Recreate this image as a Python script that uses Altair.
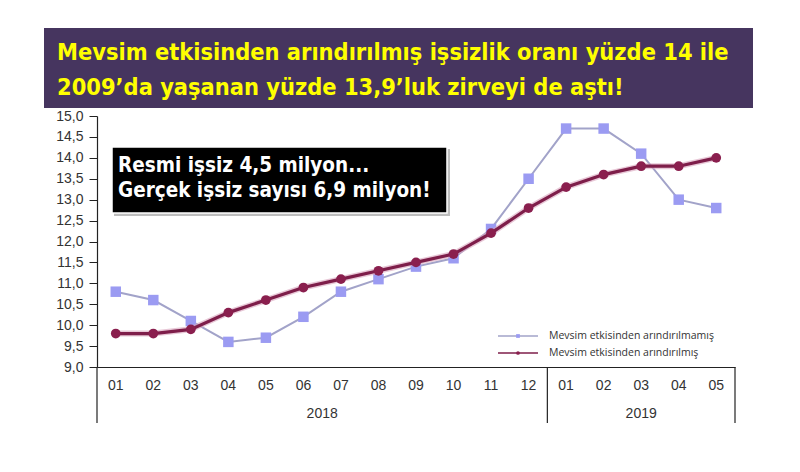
import altair as alt
import pandas as pd

# ---------------- data ----------------
months = ["01", "02", "03", "04", "05", "06", "07", "08", "09", "10", "11", "12",
          "01", "02", "03", "04", "05"]
years = ["2018"] * 12 + ["2019"] * 5
unadjusted = [10.8, 10.6, 10.1, 9.6, 9.7, 10.2, 10.8, 11.1, 11.4, 11.6, 12.3, 13.5,
              14.7, 14.7, 14.1, 13.0, 12.8]
adjusted = [9.8, 9.8, 9.9, 10.3, 10.6, 10.9, 11.1, 11.3, 11.5, 11.7, 12.2, 12.8,
            13.3, 13.6, 13.8, 13.8, 14.0]
series_names = ["Mevsim etkisinden arındırılmamış", "Mevsim etkisinden arındırılmış"]
year_labels = ["2018", "2019"]
year_start = [0, 12]
year_end = [12, 17]
group_bounds = [0, 12, 17]
y_ticks = [9.0, 9.5, 10.0, 10.5, 11.0, 11.5, 12.0, 12.5, 13.0, 13.5, 14.0, 14.5, 15.0]
title_lines = ["Mevsim etkisinden arındırılmış işsizlik oranı yüzde 14 ile",
               "2009’da yaşanan yüzde 13,9’luk zirveyi de aştı!"]
box_lines = ["Resmi işsiz 4,5 milyon...", "Gerçek işsiz sayısı 6,9 milyon!"]

# ---------------- tables ----------------
idx = list(range(len(months)))
long_df = pd.DataFrame({
    "idx": idx * 2,
    "month": months * 2,
    "series": [series_names[0]] * len(idx) + [series_names[1]] * len(idx),
    "value": unadjusted + adjusted,
})
month_df = pd.DataFrame({"idx": idx, "month": months})
year_df = pd.DataFrame({"year": year_labels, "s": year_start, "e": year_end})
bound_df = pd.DataFrame({"b": group_bounds})
one = pd.DataFrame({"k": [0]})

W, H = 638, 251
FONT = "Liberation Sans"
COND = "DejaVu Sans Condensed"
LEGFONT = "Open Sans"

xscale = alt.Scale(domain=[0, 17])
yscale = alt.Scale(domain=[9, 15])
xaxis = alt.Axis(labels=False, ticks=False, grid=False, domain=True, title=None,
                 domainColor="#222222", domainWidth=1.2)
yaxis = alt.Axis(values=y_ticks, grid=False, title=None, tickSize=8, tickColor="#222222",
                 domainColor="#222222", domainWidth=1.2, labelFont=FONT, labelFontSize=14,
                 labelColor="#333333", labelPadding=6,
                 labelExpr="replace(format(datum.value, '.1f'), '.', ',')")

def X(field):
    return alt.X(f"{field}:Q", scale=xscale, axis=xaxis)

# banner
banner = alt.Chart(one).mark_rect(color="#46355f").encode(
    x=alt.value(-53), x2=alt.value(656), y=alt.value(-88), y2=alt.value(-8))
banner_text = alt.Chart(one).mark_text(
    text=title_lines, align="left", baseline="alphabetic", font=COND, fontWeight="bold",
    fontSize=23.4, lineHeight=35, color="#ffff00").encode(x=alt.value(-40), y=alt.value(-56))

# black text box
box_shadow = alt.Chart(one).mark_rect(color="#bdbdbd").encode(
    x=alt.value(17), x2=alt.value(353), y=alt.value(33), y2=alt.value(100))
box = alt.Chart(one).mark_rect(color="#000000", stroke="#ffffff", strokeWidth=1.5).encode(
    x=alt.value(15), x2=alt.value(350), y=alt.value(31), y2=alt.value(97))
box_text = alt.Chart(one).mark_text(
    text=box_lines, align="left", baseline="alphabetic", font=COND, fontWeight="bold",
    fontSize=20.5, lineHeight=25, color="#ffffff").encode(x=alt.value(21), y=alt.value(56))

# series
base = alt.Chart(long_df).transform_calculate(xc="datum.idx + 0.5")
ycode = alt.Y("value:Q", scale=yscale, axis=yaxis)

u_line = base.transform_filter(alt.datum.series == series_names[0]).mark_line(
    color="#a2a3c9", strokeWidth=2).encode(x=X("xc"), y=ycode)
u_pts = base.transform_filter(alt.datum.series == series_names[0]).mark_point(
    shape="square", filled=True, size=110, color="#9b9bf2", opacity=1).encode(x=X("xc"), y=ycode)
a_glow = base.transform_filter(alt.datum.series == series_names[1]).mark_line(
    color="#d9a3bd", strokeWidth=6, opacity=0.6).encode(x=X("xc"), y=ycode)
a_line = base.transform_filter(alt.datum.series == series_names[1]).mark_line(
    color="#7e1e4a", strokeWidth=3.2).encode(x=X("xc"), y=ycode)
a_pts = base.transform_filter(alt.datum.series == series_names[1]).mark_point(
    shape="circle", filled=True, size=95, color="#8a1f4e", opacity=1).encode(x=X("xc"), y=ycode)

# category axis (months / years)
month_text = alt.Chart(month_df).transform_calculate(xc="datum.idx + 0.5").mark_text(
    font=FONT, fontSize=14, color="#333333", baseline="middle").encode(
    x=X("xc"), y=alt.value(H + 19), text="month:N")
year_text = alt.Chart(year_df).transform_calculate(xc="(datum.s + datum.e) / 2").mark_text(
    font=FONT, fontSize=14, color="#333333", baseline="middle").encode(
    x=X("xc"), y=alt.value(H + 47), text="year:N")
bounds = alt.Chart(bound_df).mark_rule(color="#222222", strokeWidth=1.2).encode(
    x=X("b"), y=alt.value(H), y2=alt.value(H + 56))

# legend
leg_u_rule = alt.Chart(one).mark_rule(color="#a2a3c9", strokeWidth=1.5).encode(
    x=alt.value(401), x2=alt.value(441), y=alt.value(220))
leg_u_pt = alt.Chart(one).mark_point(shape="square", filled=True, size=14,
                                     color="#9b9bf2", opacity=1).encode(
    x=alt.value(421), y=alt.value(220))
leg_u_txt = alt.Chart(one).mark_text(text=series_names[0], align="left", baseline="middle",
                                     font=LEGFONT, fontSize=10.5, color="#333333").encode(
    x=alt.value(452), y=alt.value(220))
leg_a_rule = alt.Chart(one).mark_rule(color="#7e1e4a", strokeWidth=1.5).encode(
    x=alt.value(401), x2=alt.value(441), y=alt.value(237))
leg_a_pt = alt.Chart(one).mark_point(shape="circle", filled=True, size=14,
                                     color="#8a1f4e", opacity=1).encode(
    x=alt.value(421), y=alt.value(237))
leg_a_txt = alt.Chart(one).mark_text(text=series_names[1], align="left", baseline="middle",
                                     font=LEGFONT, fontSize=10.5, color="#333333").encode(
    x=alt.value(452), y=alt.value(237))

chart = alt.layer(
    u_line, u_pts, a_glow, a_line, a_pts,
    month_text, year_text, bounds,
    banner, banner_text, box_shadow, box, box_text,
    leg_u_rule, leg_u_pt, leg_u_txt, leg_a_rule, leg_a_pt, leg_a_txt,
).properties(
    width=W, height=H,
    autosize=alt.AutoSizeParams(type="none"),
    padding={"left": 89, "top": 108, "right": 57, "bottom": 97},
    background="#ffffff",
).configure_view(stroke=None)

chart.save("out.html", embed_options={"renderer": "svg", "actions": False})
